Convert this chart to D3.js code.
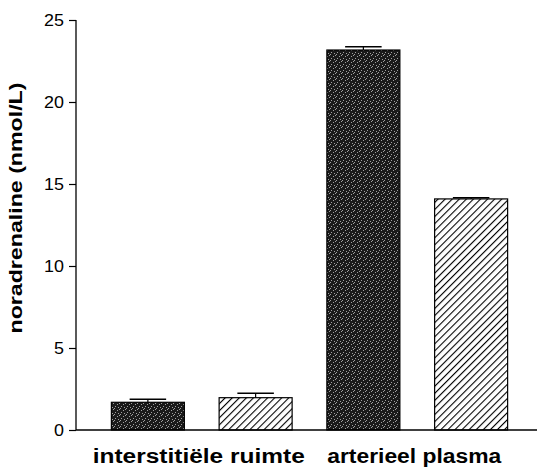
<!DOCTYPE html>
<html>
<head>
<meta charset="utf-8">
<script src="https://cdn.jsdelivr.net/npm/d3@7"></script>
<style>
  html, body { margin: 0; padding: 0; background: #fff; }
  svg { display: block; }
  text { font-family: "Liberation Sans", Arial, sans-serif; fill: #000; }
</style>
</head>
<body>
<svg id="chart" width="539" height="469"></svg>
<script>
// ---- data ----
const categories = ["interstitiële ruimte", "arterieel plasma"];
const seriesNames = ["dark", "hatched"];
const darkValues = [1.69, 23.17];
const darkErrors = [0.18, 0.20];
const hatchedValues = [1.97, 14.09];
const hatchedErrors = [0.27, 0.07];
const yTicks = [0, 5, 10, 15, 20, 25];
const yLabel = "noradrenaline (nmol/L)";

const rows = [];
categories.forEach((c, i) => {
  rows.push({ cat: c, series: "dark", value: darkValues[i], err: darkErrors[i] });
  rows.push({ cat: c, series: "hatched", value: hatchedValues[i], err: hatchedErrors[i] });
});

const svg = d3.select("#chart");
const defs = svg.append("defs");

// stippled dark pattern
const dp = defs.append("pattern").attr("id", "stipple")
  .attr("patternUnits", "userSpaceOnUse").attr("width", 6).attr("height", 6);
dp.append("rect").attr("width", 6).attr("height", 6).attr("fill", "#1a1a1a");
[[0,0],[3,2],[1,4],[4,5],[5,1]].forEach(([x,yy]) => {
  dp.append("rect").attr("x", x).attr("y", yy).attr("width", 1).attr("height", 1).attr("fill", "#a0a0a0");
});

// hatch pattern
const hp = defs.append("pattern").attr("id", "hatch")
  .attr("patternUnits", "userSpaceOnUse").attr("width", 5).attr("height", 5)
  .attr("patternTransform", "rotate(45)");
hp.append("rect").attr("width", 5).attr("height", 5).attr("fill", "#fff");
hp.append("line").attr("x1", 0).attr("y1", 0).attr("x2", 0).attr("y2", 5)
  .attr("stroke", "#000").attr("stroke-width", 2.2);

// ---- scales ----
const y = d3.scaleLinear().domain([0, 25]).range([430, 20]);
const x0 = d3.scaleBand().domain(categories).range([94, 525]).padding(0);
const x1 = d3.scaleBand().domain(seriesNames).range([0, x0.bandwidth()])
  .paddingInner(0.3225).paddingOuter(0.16125);

const axisX = 76;

// ---- bars ----
const g = svg.append("g");
g.selectAll("rect.bar").data(rows).enter().append("rect")
  .attr("class", "bar")
  .attr("x", d => x0(d.cat) + x1(d.series))
  .attr("y", d => y(d.value))
  .attr("width", x1.bandwidth())
  .attr("height", d => y(0) - y(d.value))
  .attr("fill", d => d.series === "dark" ? "url(#stipple)" : "url(#hatch)")
  .attr("stroke", "#000").attr("stroke-width", 1.2);

// ---- error bars ----
const capW = x1.bandwidth() / 2;
rows.forEach(d => {
  const cx = x0(d.cat) + x1(d.series) + x1.bandwidth() / 2;
  g.append("line").attr("x1", cx).attr("x2", cx)
    .attr("y1", y(d.value)).attr("y2", y(d.value + d.err))
    .attr("stroke", "#000").attr("stroke-width", 1.2);
  g.append("line").attr("x1", cx - capW / 2).attr("x2", cx + capW / 2)
    .attr("y1", y(d.value + d.err)).attr("y2", y(d.value + d.err))
    .attr("stroke", "#000").attr("stroke-width", 1.5);
});

// ---- y axis ----
const yAxis = d3.axisLeft(y).tickValues(yTicks).tickSize(7).tickPadding(5).tickFormat(d3.format("d"));
const ya = svg.append("g").attr("transform", `translate(${axisX},0)`).call(yAxis);
ya.select(".domain").attr("stroke", "#000").attr("stroke-width", 1.3).attr("d", `M0,${y(25)}V${y(0)}`);
ya.selectAll(".tick line").attr("stroke", "#000").attr("stroke-width", 1.2);
ya.selectAll(".tick text").style("font-family", '"Liberation Sans", Arial, sans-serif')
  .style("font-size", "16px").attr("fill", "#000")
  .attr("transform", "scale(1.12,1)").attr("x", -12 / 1.12);

// ---- x axis baseline ----
svg.append("line").attr("x1", axisX).attr("x2", 537)
  .attr("y1", y(0)).attr("y2", y(0)).attr("stroke", "#000").attr("stroke-width", 1.5);

// ---- category labels ----
const catLen = [212, 174];
svg.selectAll("text.cat").data(categories).enter().append("text")
  .attr("class", "cat")
  .attr("x", d => x0(d) + x0.bandwidth() / 2 - 3)
  .attr("y", 463)
  .attr("text-anchor", "middle")
  .attr("textLength", (d, i) => catLen[i])
  .attr("lengthAdjust", "spacingAndGlyphs")
  .style("font-size", "20px").style("font-weight", "bold")
  .text(d => d);

// ---- y label ----
svg.append("text")
  .attr("transform", `translate(22,${(y(25) + y(0)) / 2 - 17}) rotate(-90)`)
  .attr("text-anchor", "middle")
  .attr("textLength", 251)
  .attr("lengthAdjust", "spacingAndGlyphs")
  .style("font-size", "19px").style("font-weight", "bold")
  .text(yLabel);
</script>
</body>
</html>
